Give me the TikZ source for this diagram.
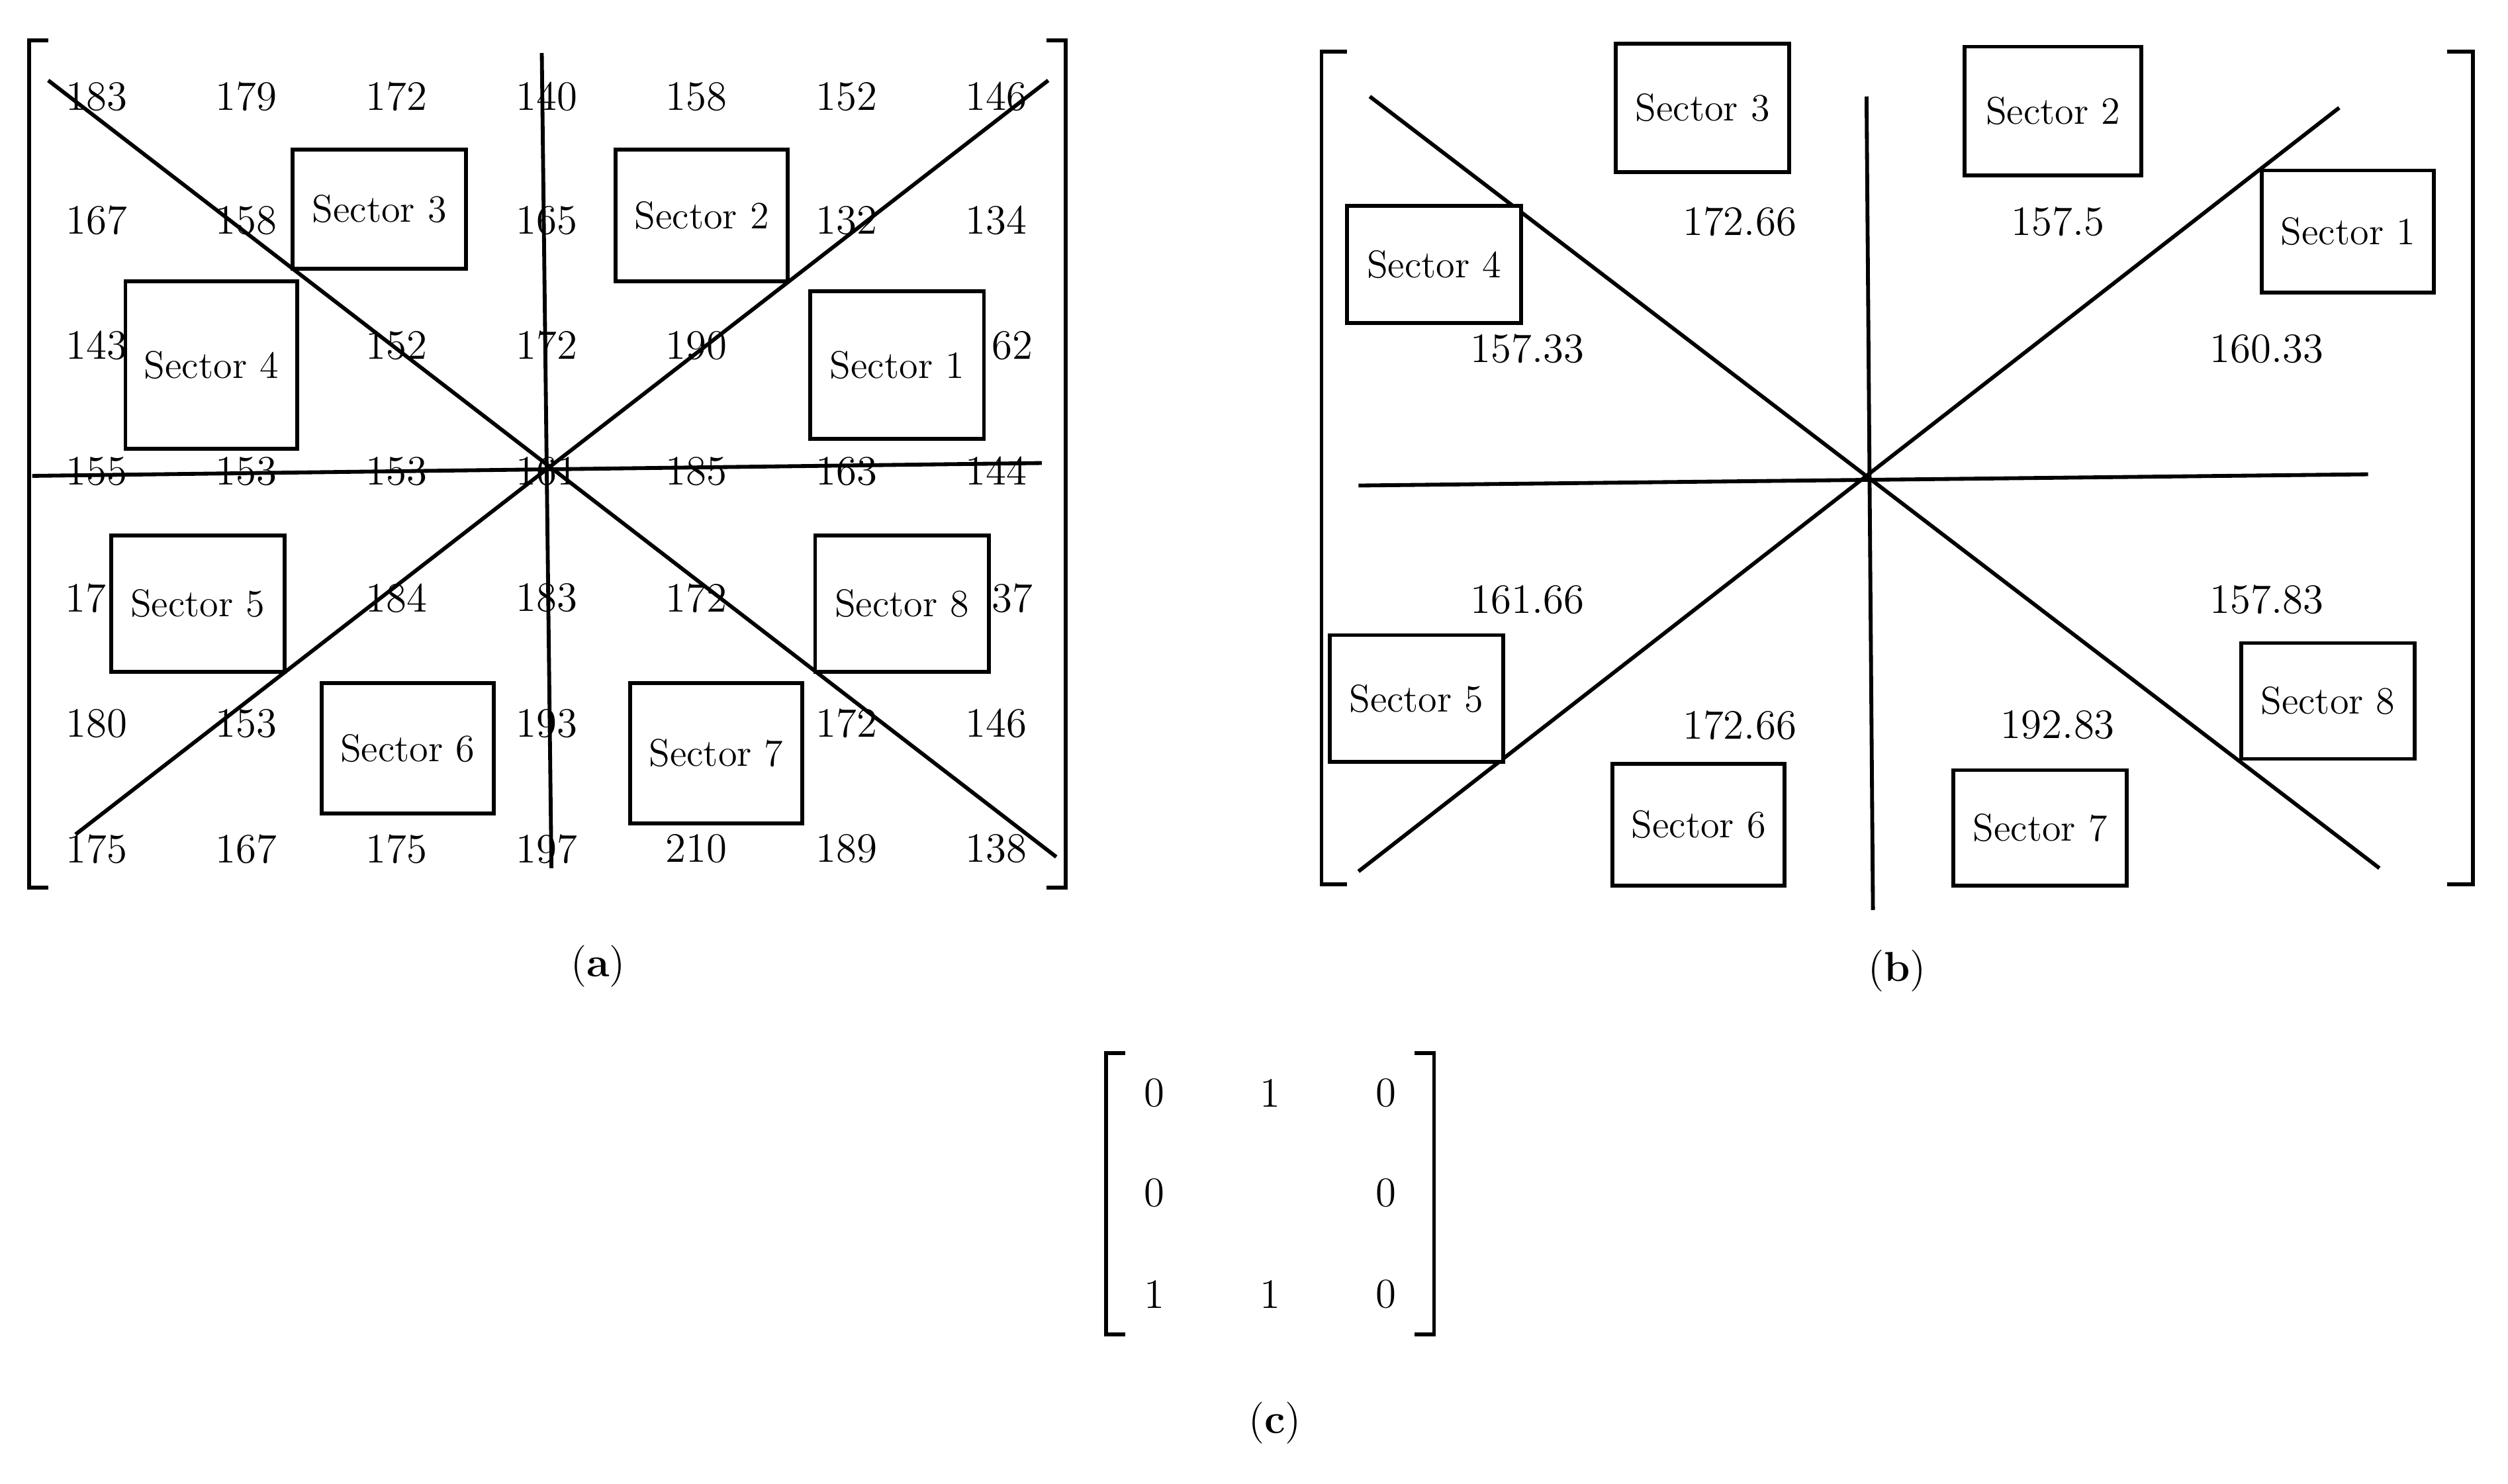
\documentclass[tikz,border=0pt]{standalone}
\begin{document}
\begin{tikzpicture}[x=0.5pt,y=-0.5pt,
  ln/.style={line width=1.2pt},
  num/.style={font=\fontsize{13}{15}\selectfont,inner sep=0pt},
  sec/.style={draw,line width=1.2pt,fill=white,font=\fontsize{12}{14}\selectfont,inner sep=0pt},
  captxt/.style={font=\fontsize{13}{15}\selectfont}]
\useasboundingbox (0,0) rectangle (1560,923);
% ---------- panel (a)
\draw[ln] (30,25) -- (18,25) -- (18,552) -- (30,552);
\draw[ln] (651,25) -- (663,25) -- (663,552) -- (651,552);
\foreach \r/\y/\vals in {1/60/{183,179,172,140,158,152,146},
                         2/137/{167,158,,165,,132,134},
                         3/215/{143,,152,172,190,,},
                         4/293/{155,153,153,161,185,163,144},
                         5/372/{,,184,183,172,,},
                         6/450/{180,153,,193,,172,146},
                         7/528/{175,167,175,197,210,189,138}}{
  \foreach \v [count=\c] in \vals {
    \node[num] (a\r\c) at ({60+93.3*(\c-1)},\y) {\v};
  }
}
\node[num,anchor=west] (a51x) at (40,372) {17};
\node[num,anchor=east] (a37x) at (643,215) {62};
\node[num,anchor=east] (a57x) at (643,372) {37};
\draw[ln] (30,50) -- (657,533);
\draw[ln] (47,519) -- (652,50);
\draw[ln] (337,33) -- (343,540);
\draw[ln] (20,296) -- (648,288);
\foreach \n/\xa/\ya/\xb/\yb in {3/182/93/290/167, 2/383/93/490/175, 4/78/175/185/279,
  1/504/181/612/273, 5/69/333/177/418, 8/507/333/615/418, 6/200/425/307/506, 7/392/425/499/512}{
  \node[sec,minimum width={(\xb-\xa)*0.5pt},minimum height={(\yb-\ya)*0.5pt}] (sa\n) at ({(\xa+\xb)/2},{(\ya+\yb)/2}) {Sector \n};
}
\node[captxt] (capa) at (372,601) {(\textbf{a})};
% ---------- panel (b)
\draw[ln] (838,32) -- (822,32) -- (822,550) -- (838,550);
\draw[ln] (1522,32) -- (1538,32) -- (1538,550) -- (1522,550);
\draw[ln] (852,60) -- (1480,540);
\draw[ln] (845,542) -- (1455,67);
\draw[ln] (1161,60) -- (1165,566);
\draw[ln] (845,302) -- (1473,295);
\foreach \n/\xa/\ya/\xb/\yb in {3/1005/27/1113/107, 2/1222/29/1332/109, 1/1407/106/1514/182,
  4/838/128/946/201, 5/827/395/935/474, 8/1394/400/1502/472, 6/1003/475/1110/551, 7/1215/479/1323/551}{
  \node[sec,minimum width={(\xb-\xa)*0.5pt},minimum height={(\yb-\ya)*0.5pt}] (sb\n) at ({(\xa+\xb)/2},{(\ya+\yb)/2}) {Sector \n};
}
\node[num] (b3) at (1082,138) {172.66};
\node[num] (b2) at (1280,138) {157.5};
\node[num] (b4) at (950,217) {157.33};
\node[num] (b1) at (1410,217) {160.33};
\node[num] (b5) at (950,373) {161.66};
\node[num] (b8) at (1410,373) {157.83};
\node[num] (b6) at (1082,451) {172.66};
\node[num] (b7) at (1280,451) {192.83};
\node[captxt] (capb) at (1180,604) {(\textbf{b})};
% ---------- panel (c)
\draw[ln] (700,655) -- (688,655) -- (688,830) -- (700,830);
\draw[ln] (880,655) -- (892,655) -- (892,830) -- (880,830);
\node[num] (c11) at (718,680) {0};
\node[num] (c12) at (790,680) {1};
\node[num] (c13) at (862,680) {0};
\node[num] (c21) at (718,742) {0};
\node[num] (c23) at (862,742) {0};
\node[num] (c31) at (718,805) {1};
\node[num] (c32) at (790,805) {1};
\node[num] (c33) at (862,805) {0};
\node[captxt] (capc) at (793,885) {(\textbf{c})};
\end{tikzpicture}
\end{document}
